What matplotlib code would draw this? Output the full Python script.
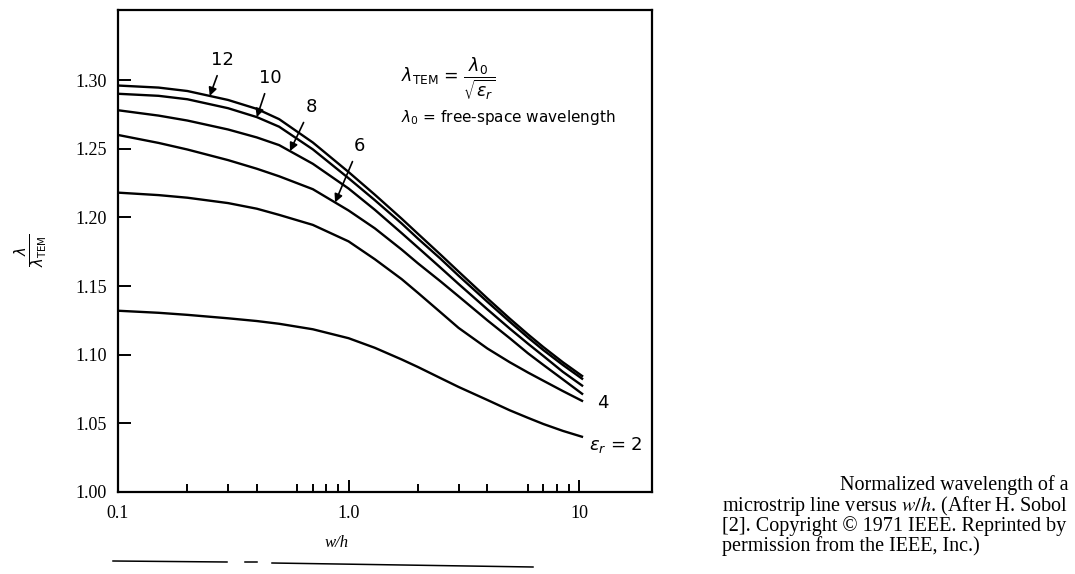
import numpy as np
import matplotlib.pyplot as plt
from matplotlib.lines import Line2D
from matplotlib.ticker import FixedLocator, NullFormatter

plt.rcParams['mathtext.fontset'] = 'dejavusans'

wh = [0.1, 0.15, 0.2, 0.3, 0.4, 0.5, 0.7, 1.0, 1.3, 1.7, 2.0, 2.5, 3.0, 4.0, 5.0, 6.0, 7.0, 8.5, 10.4]

# lambda / lambda_TEM for each eps_r
er_12 = [1.296, 1.2945, 1.292, 1.2855, 1.279, 1.2715, 1.2545, 1.233, 1.2165, 1.199,
         1.188, 1.173, 1.1605, 1.141, 1.1263, 1.1148, 1.1055, 1.0945, 1.084]
er_10 = [1.290, 1.2885, 1.286, 1.2795, 1.273, 1.266, 1.2495, 1.2285, 1.2125, 1.1955,
         1.1845, 1.170, 1.1575, 1.1385, 1.124, 1.1125, 1.1033, 1.0925, 1.082]
er_8 = [1.278, 1.2741, 1.2705, 1.264, 1.2582, 1.2526, 1.239, 1.221, 1.2055, 1.1885,
        1.178, 1.1635, 1.1515, 1.133, 1.119, 1.108, 1.099, 1.0875, 1.077]
er_6 = [1.260, 1.2542, 1.2494, 1.2417, 1.2354, 1.2299, 1.2205, 1.205, 1.192, 1.1765,
        1.1665, 1.1535, 1.1425, 1.125, 1.112, 1.101, 1.0925, 1.082, 1.071]
er_4 = [1.218, 1.2162, 1.2143, 1.2104, 1.2063, 1.2018, 1.1945, 1.1825, 1.1695, 1.155,
        1.145, 1.131, 1.1195, 1.1045, 1.0945, 1.087, 1.081, 1.0735, 1.066]
er_2 = [1.132, 1.1305, 1.129, 1.1265, 1.1245, 1.1225, 1.1185, 1.112, 1.105, 1.0965,
        1.091, 1.083, 1.0765, 1.067, 1.0595, 1.054, 1.0495, 1.0445, 1.040]

yticks = [1.00, 1.05, 1.10, 1.15, 1.20, 1.25, 1.30]
xticks = [0.1, 1.0, 10]
xtick_labels = ['0.1', '1.0', '10']
xminor = [0.2, 0.3, 0.4, 0.6, 0.7, 0.8, 0.9, 2, 3, 4, 6, 7, 8, 9]

# arrow labels: (text, curve, x of arrow tip, label x, label y)
arrow_labels = [('12', er_12, 0.25, 0.285, 1.3146),
                ('10', er_10, 0.40, 0.456, 1.3015),
                ('8', er_8, 0.557, 0.687, 1.2804),
                ('6', er_6, 0.874, 1.111, 1.2520)]

W, H = 1075, 574
fig = plt.figure(figsize=(W / 100, H / 100), dpi=100)
ax = fig.add_axes([118 / W, 1 - 492 / H, (652 - 118) / W, (492 - 10) / H])

ax.set_xscale('log')
for vals in [er_12, er_10, er_8, er_6, er_4, er_2]:
    ax.plot(wh, vals, color='black', lw=1.7, solid_capstyle='butt', solid_joinstyle='round')

ax.set_xlim(0.1, 20.7)
ax.set_ylim(1.0, 1.351)

ax.xaxis.set_major_locator(FixedLocator(xticks))
ax.set_xticklabels(xtick_labels)
ax.xaxis.set_minor_locator(FixedLocator(xminor))
ax.xaxis.set_minor_formatter(NullFormatter())
ax.set_yticks(yticks)
ax.set_yticklabels(['%.2f' % v for v in yticks])

ax.tick_params(axis='both', which='both', direction='in', top=False, right=False, width=1.4, color='black')
ax.tick_params(axis='x', which='major', length=9, pad=9)
ax.tick_params(axis='x', which='minor', length=6)
ax.tick_params(axis='y', which='major', length=9, pad=8)
for lab in ax.get_xticklabels() + ax.get_yticklabels():
    lab.set_fontfamily('Liberation Serif')
    lab.set_fontsize(13)

for sp in ax.spines.values():
    sp.set_linewidth(1.6)

# arrows pointing at the upper curves
logwh = np.log10(wh)
for txt, vals, xt, lx, ly in arrow_labels:
    yt = np.interp(np.log10(xt), logwh, vals)
    ax.annotate(txt, xy=(xt, yt), xytext=(lx, ly), ha='center', va='center',
                fontsize=13, family='DejaVu Sans',
                arrowprops=dict(arrowstyle='-|>', color='black', lw=1.2,
                                mutation_scale=12, shrinkA=3, shrinkB=0))

ax.text(11.97, 1.0648, '4', fontsize=13, family='DejaVu Sans', ha='left', va='center')
ax.text(11.07, 1.034, r'$\epsilon_r$ = 2', fontsize=13, family='DejaVu Sans', ha='left', va='center')

# formula in the upper right
ax.text(0.53, 0.858, r'$\lambda_{\rm TEM}$ = $\dfrac{\lambda_0}{\sqrt{\epsilon_r}}$',
        transform=ax.transAxes, fontsize=12.5, ha='left', va='center')
ax.text(0.53, 0.776, r'$\lambda_0$ = free-space wavelength',
        transform=ax.transAxes, fontsize=11, ha='left', va='center')

# axis labels
fig.text(31 / W, 1 - 250 / H, r'$\frac{\lambda}{\lambda_{\rm TEM}}$', rotation=90,
         fontsize=15, ha='center', va='center')
fig.text(337 / W, 1 - 543 / H, 'w/h', fontsize=12, family='Liberation Serif',
         style='italic', ha='center', va='center')

# caption
fig.text(1068 / W, 1 - 485 / H, 'Normalized wavelength of a', fontsize=14.5,
         family='Liberation Serif', ha='right', va='center')
cap = [r'microstrip line versus $w/h$. (After H. Sobol',
       '[2]. Copyright \u00a9 1971 IEEE. Reprinted by',
       'permission from the IEEE, Inc.)']
cap_y = [506, 526, 546]
for line, py in zip(cap, cap_y):
    fig.text(722 / W, 1 - py / H, line, fontsize=14.5, family='Liberation Serif',
             math_fontfamily='stix', ha='left', va='center')

# stray rule under the chart on the scanned page
for (x0, y0), (x1, y1) in [((113, 561), (227, 562)), ((245, 562), (257, 562)), ((272, 563), (533, 567))]:
    fig.add_artist(Line2D([x0 / W, x1 / W], [1 - y0 / H, 1 - y1 / H], color='black', lw=1.1))

fig.savefig('out.png', dpi=100, facecolor='white')
